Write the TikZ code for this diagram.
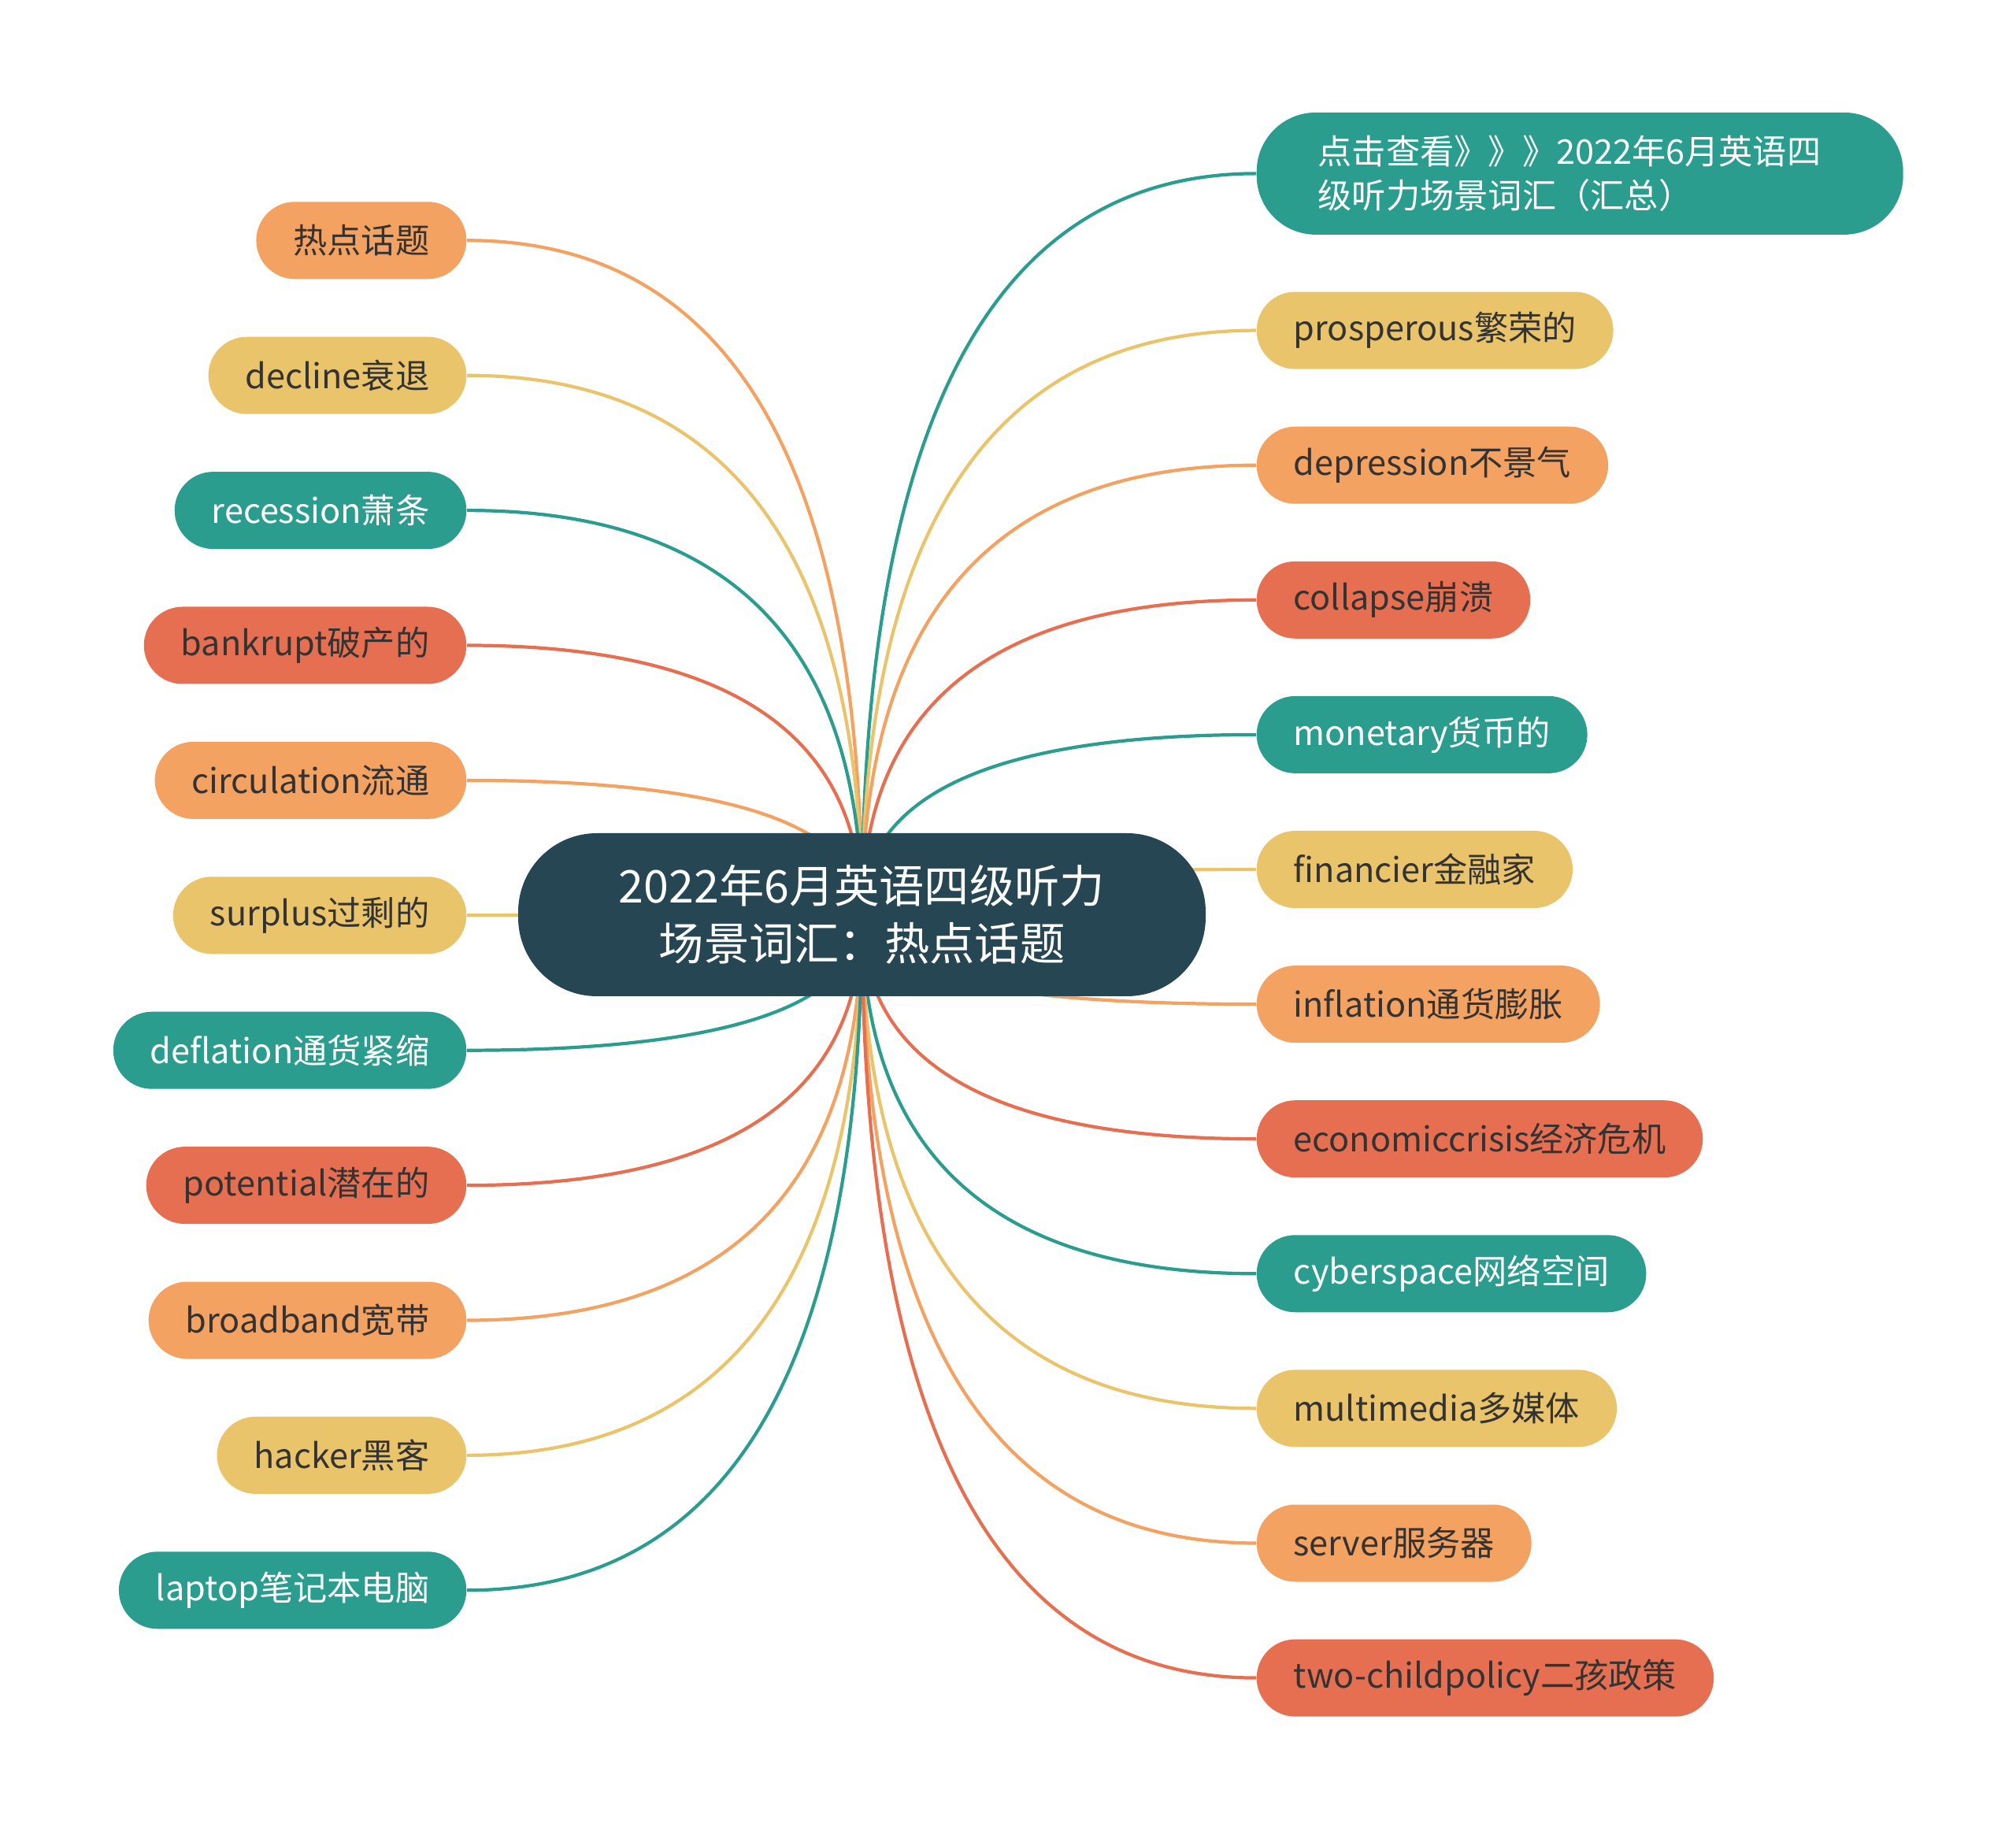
\documentclass[tikz,border=0pt]{standalone}
\usepackage{fontspec}
\setmainfont{Noto Sans CJK SC}
\usetikzlibrary{backgrounds, calc}
\definecolor{hubfill}{HTML}{264653}
\definecolor{tealfill}{HTML}{2A9D8F}
\definecolor{yellowfill}{HTML}{E9C46A}
\definecolor{orangefill}{HTML}{F4A261}
\definecolor{redfill}{HTML}{E76F51}
\definecolor{darktext}{HTML}{333333}
\tikzset{
  card/.style={
    rectangle,
    rounded corners=0.49cm,
    draw=none,
    inner xsep=0.47cm,
    inner ysep=0pt,
    minimum height=0.98cm,
    font=\fontsize{12.3}{16}\selectfont
  },
  leaf/.style 2 args={card, fill=#1, text=#2},
  hub/.style={rectangle, rounded corners=1cm, fill=hubfill, text=white, align=center,
    minimum width=8.73cm, minimum height=2.07cm, font=\fontsize{16.3}{20.8}\selectfont},
  branch/.style={line width=1.2pt}
}
\begin{document}
\begin{tikzpicture}
\useasboundingbox (0,0) rectangle (25.6,-23.25);

% Central topic.
\node[hub] (hub) at (10.945,-11.615) {2022年6月英语四级听力\\场景词汇：热点话题};

% Left branch.
\foreach \i/\txt/\fc/\tc in {
  1/热点话题/orangefill/darktext,
  2/decline衰退/yellowfill/darktext,
  3/recession萧条/tealfill/white,
  4/bankrupt破产的/redfill/darktext,
  5/circulation流通/orangefill/darktext,
  6/surplus过剩的/yellowfill/darktext,
  7/deflation通货紧缩/tealfill/white,
  8/potential潜在的/redfill/darktext,
  9/broadband宽带/orangefill/darktext,
  10/hacker黑客/yellowfill/darktext,
  11/laptop笔记本电脑/tealfill/white} {
  \node[leaf={\fc}{\tc}, anchor=east] (l\i) at (5.93,{-3.053-1.714*(\i-1)}) {\txt};
}

% Right branch.
\node[leaf={tealfill}{white}, anchor=west, align=left, text width=6.65cm,
  inner xsep=0.78cm, minimum height=1.55cm, rounded corners=0.75cm]
  (r1) at (15.95,-2.204) {点击查看》》》2022年6月英语四\\级听力场景词汇（汇总）};
\foreach \i/\txt/\fc/\tc in {
  2/prosperous繁荣的/yellowfill/darktext,
  3/depression不景气/orangefill/darktext,
  4/collapse崩溃/redfill/darktext,
  5/monetary货币的/tealfill/white,
  6/financier金融家/yellowfill/darktext,
  7/inflation通货膨胀/orangefill/darktext,
  8/economiccrisis经济危机/redfill/darktext,
  9/cyberspace网络空间/tealfill/white,
  10/multimedia多媒体/yellowfill/darktext,
  11/server服务器/orangefill/darktext,
  12/two-childpolicy二孩政策/redfill/darktext} {
  \node[leaf={\fc}{\tc}, anchor=west] (r\i) at (15.95,{-4.196-1.711*(\i-2)}) {\txt};
}

% Connectors (quadratic bends through the hub column).
\begin{scope}[on background layer]
\foreach \i/\col in {1/orangefill,2/yellowfill,3/tealfill,4/redfill,5/orangefill,6/yellowfill,
  7/tealfill,8/redfill,9/orangefill,10/yellowfill,11/tealfill} {
  \draw[branch, draw=\col] (hub.center)
    .. controls ($(hub.center)!0.667!(hub.center |- l\i.east)$)
    and ($(l\i.east)!0.667!(hub.center |- l\i.east)$) .. (l\i.east);
}
\foreach \i/\col in {1/tealfill,2/yellowfill,3/orangefill,4/redfill,5/tealfill,6/yellowfill,
  7/orangefill,8/redfill,9/tealfill,10/yellowfill,11/orangefill,12/redfill} {
  \draw[branch, draw=\col] (hub.center)
    .. controls ($(hub.center)!0.667!(hub.center |- r\i.west)$)
    and ($(r\i.west)!0.667!(hub.center |- r\i.west)$) .. (r\i.west);
}
\end{scope}

\end{tikzpicture}
\end{document}
